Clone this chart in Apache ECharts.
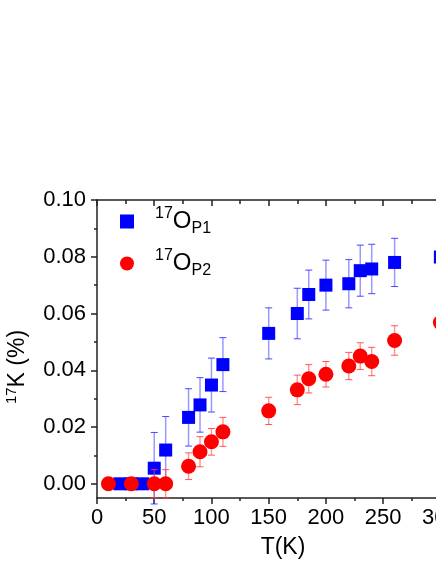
<!DOCTYPE HTML>
<html>

<head>
	<meta charset="utf-8" />
	<title>17K vs T</title>
	<script src="https://cdn.jsdelivr.net/npm/echarts@6/dist/echarts.min.js"></script>
	<style>
		html, body { margin: 0; padding: 0; overflow: hidden; background: #fff; }
	</style>
</head>

<body>
	<!-- wider than the window: the right part of the plot is cut off like in the original -->
	<div id="main" style="width: 520px;height:564px;"></div>
	<script type="text/javascript">
		// O(P1) site, blue squares
		var tP1 = [20, 30, 40, 50, 60, 80, 90, 100, 110, 150, 175, 185, 200, 220, 230, 240, 260, 300];
		var kP1 = [0, 0, 0, 0.0055, 0.0119, 0.0234, 0.0278, 0.0348, 0.0420, 0.0530, 0.0600, 0.0667, 0.0700, 0.0705, 0.0751, 0.0757, 0.0780, 0.0799];
		var errP1 = [0, 0, 0, 0.0126, 0.0118, 0.0101, 0.0096, 0.0095, 0.0095, 0.0090, 0.0089, 0.0086, 0.0088, 0.0085, 0.0090, 0.0087, 0.0085, 0.0085];

		// O(P2) site, red circles
		var tP2 = [10, 30, 50, 60, 80, 90, 100, 110, 150, 175, 185, 200, 220, 230, 240, 260, 300];
		var kP2 = [0, 0, 0, 0, 0.0062, 0.0113, 0.0148, 0.0183, 0.0257, 0.0331, 0.0370, 0.0386, 0.0415, 0.0450, 0.0431, 0.0505, 0.0568];
		var errP2 = [0, 0, 0.0050, 0.0050, 0.0047, 0.0053, 0.0047, 0.0051, 0.0048, 0.0052, 0.0050, 0.0045, 0.0048, 0.0047, 0.0050, 0.0052, 0.0050];

		var yTicks = [0, 0.02, 0.04, 0.06, 0.08, 0.10];
		var yMinorTicks = [0.01, 0.03, 0.05, 0.07, 0.09];

		var FONT = "Liberation Sans";
		var AXIS_COLOR = "#222";

		function toPoints(t, k, err) {
			var pts = [];
			for (var i = 0; i < t.length; i++) {
				pts.push([t[i], k[i], err[i]]);
			}
			return pts;
		}

		function errorBarRenderer(lineColor, capColor) {
			return function (params, api) {
				var x = api.value(0);
				var y = api.value(1);
				var e = api.value(2);
				if (!e) {
					return;
				}
				var hi = api.coord([x, y + e]);
				var lo = api.coord([x, y - e]);
				var cap = 3.5;
				return {
					type: "group",
					children: [{
						type: "line",
						shape: { x1: hi[0], y1: hi[1], x2: lo[0], y2: lo[1] },
						style: { stroke: lineColor, lineWidth: 1.5 }
					}, {
						type: "line",
						shape: { x1: hi[0] - cap, y1: hi[1], x2: hi[0] + cap, y2: hi[1] },
						style: { stroke: capColor, lineWidth: 1 }
					}, {
						type: "line",
						shape: { x1: lo[0] - cap, y1: lo[1], x2: lo[0] + cap, y2: lo[1] },
						style: { stroke: capColor, lineWidth: 1 }
					}]
				};
			};
		}

		var dataP1 = toPoints(tP1, kP1, errP1);
		var dataP2 = toPoints(tP2, kP2, errP2);

		var myChart = echarts.init(document.getElementById("main"));

		var option = {
			animation: false,
			grid: { left: 97, top: 200, width: 372, height: 301 },
			legend: {
				orient: "vertical",
				left: 120,
				top: 206,
				padding: 0,
				itemGap: 11,
				itemWidth: 14,
				itemHeight: 14,
				data: [
					{ name: "P1", icon: "rect" },
					{ name: "P2", icon: "circle" }
				],
				formatter: function (name) {
					return "{sup|17}{o|O}{sub|" + name + "}";
				},
				textStyle: {
					fontFamily: FONT,
					color: "#000",
					rich: {
						sup: { fontFamily: FONT, fontSize: 16, color: "#000", verticalAlign: "top", padding: [0, 0, 0, 16] },
						o: { fontFamily: FONT, fontSize: 24, color: "#000", lineHeight: 31, verticalAlign: "middle" },
						sub: { fontFamily: FONT, fontSize: 16, color: "#000", verticalAlign: "bottom" }
					}
				}
			},
			xAxis: [{
				type: "value",
				min: 0,
				max: 325,
				interval: 50,
				position: "bottom",
				name: "T(K)",
				nameLocation: "middle",
				nameGap: 38,
				nameTextStyle: { fontFamily: FONT, fontSize: 23, color: "#000" },
				axisLine: { onZero: false, lineStyle: { color: AXIS_COLOR, width: 1.5 } },
				axisTick: { inside: false, length: 6, lineStyle: { color: AXIS_COLOR, width: 1.5 } },
				minorTick: { show: true, splitNumber: 2, length: 3, lineStyle: { color: AXIS_COLOR, width: 1.5 } },
				axisLabel: { fontFamily: FONT, fontSize: 22, color: "#000", margin: 9 },
				splitLine: { show: false }
			}, {
				type: "value",
				min: 0,
				max: 325,
				interval: 50,
				position: "top",
				axisLine: { onZero: false, lineStyle: { color: AXIS_COLOR, width: 1.5 } },
				axisTick: { inside: true, length: 6, lineStyle: { color: AXIS_COLOR, width: 1.5 } },
				minorTick: { show: true, splitNumber: 2, length: 4, lineStyle: { color: AXIS_COLOR, width: 1.5 } },
				axisLabel: { show: false },
				splitLine: { show: false }
			}],
			yAxis: [{
				type: "value",
				min: -0.005,
				max: 0.10,
				position: "left",
				axisLine: { onZero: false, lineStyle: { color: AXIS_COLOR, width: 1.5 } },
				axisTick: { inside: false, length: 6, customValues: yTicks, lineStyle: { color: AXIS_COLOR, width: 1.5 } },
				axisLabel: {
					fontFamily: FONT, fontSize: 22, color: "#000", margin: 11,
					customValues: yTicks,
					formatter: function (v) { return v.toFixed(2); }
				},
				splitLine: { show: false }
			}, {
				// minor ticks only
				type: "value",
				min: -0.005,
				max: 0.10,
				position: "left",
				axisLine: { show: false },
				axisTick: { inside: false, length: 3, customValues: yMinorTicks, lineStyle: { color: AXIS_COLOR, width: 1.5 } },
				axisLabel: { show: false },
				splitLine: { show: false }
			}],
			graphic: [{
				type: "text",
				x: 18,
				y: 367,
				rotation: Math.PI / 2,
				style: {
					text: "{sup|17}{k|K (%)}",
					align: "center",
					verticalAlign: "middle",
					rich: {
						sup: { fontFamily: FONT, fontSize: 15, fill: "#000", verticalAlign: "top" },
						k: { fontFamily: FONT, fontSize: 23, fill: "#000", lineHeight: 28, verticalAlign: "middle" }
					}
				}
			}],
			series: [{
				name: "P1err",
				type: "custom",
				renderItem: errorBarRenderer("rgba(70,70,255,0.55)", "rgba(40,40,255,0.85)"),
				data: dataP1,
				encode: { x: 0, y: 1 },
				z: 2
			}, {
				name: "P1",
				type: "scatter",
				symbol: "rect",
				symbolSize: 13,
				itemStyle: { color: "#0000ff", opacity: 1 },
				data: dataP1,
				z: 3
			}, {
				name: "P2err",
				type: "custom",
				renderItem: errorBarRenderer("rgba(255,70,70,0.55)", "rgba(255,60,60,0.85)"),
				data: dataP2,
				encode: { x: 0, y: 1 },
				z: 4
			}, {
				name: "P2",
				type: "scatter",
				symbol: "circle",
				symbolSize: 15,
				itemStyle: { color: "#ff0000", opacity: 1 },
				data: dataP2,
				z: 5
			}]
		};

		myChart.setOption(option);
	</script>
</body>

</html>
